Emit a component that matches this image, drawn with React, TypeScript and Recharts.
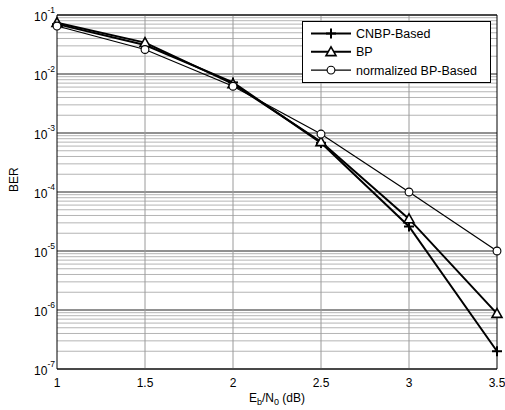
import { LineChart, Line, XAxis, YAxis, CartesianGrid, ReferenceLine, Legend, Label } from "recharts";

const EBN0 = [1, 1.5, 2, 2.5, 3, 3.5];
const CNBP = [0.07, 0.031, 0.0072, 0.00068, 2.6e-5, 2.0e-7];
const BP = [0.074, 0.034, 0.0068, 0.00071, 3.5e-5, 8.7e-7];
const NORM_BP = [0.065, 0.026, 0.0062, 0.00096, 1.0e-4, 1.0e-5];

const X_TICKS = [1, 1.5, 2, 2.5, 3, 3.5];
const X_GRID = [1.5, 2, 2.5, 3];
const DECADES = [-7, -6, -5, -4, -3, -2, -1];
const MINOR_STEPS = [2, 3, 4, 5, 6, 7, 8, 9];

const SERIES = [
  { key: "cnbp", name: "CNBP-Based", values: CNBP, width: 2, marker: "plus" },
  { key: "bp", name: "BP", values: BP, width: 2, marker: "triangle" },
  { key: "norm", name: "normalized BP-Based", values: NORM_BP, width: 1.2, marker: "circle" },
];

const data = EBN0.map((x, i) => ({ x, cnbp: CNBP[i], bp: BP[i], norm: NORM_BP[i] }));

const yTicks = DECADES.map((e) => Number("1e" + e));
const yMinor = DECADES.slice(0, -1).flatMap((e) => MINOR_STEPS.map((m) => Number(m + "e" + e)));

const FONT = "'Liberation Sans', Arial, sans-serif";

function Marker({ kind, cx, cy }: { kind: string; cx: number; cy: number }) {
  if (kind === "plus") {
    return (
      <g stroke="#000" strokeWidth={2}>
        <line x1={cx - 5} y1={cy} x2={cx + 5} y2={cy} />
        <line x1={cx} y1={cy - 5} x2={cx} y2={cy + 5} />
      </g>
    );
  }
  if (kind === "triangle") {
    return (
      <polygon
        points={`${cx},${cy - 5} ${cx - 5},${cy + 3.8} ${cx + 5},${cy + 3.8}`}
        fill="#fff"
        stroke="#000"
        strokeWidth={1.6}
      />
    );
  }
  return <circle cx={cx} cy={cy} r={3.9} fill="#fff" stroke="#000" strokeWidth={1.1} />;
}

const dotFor = (kind: string) => (props: any) => (
  <Marker key={`${kind}-${props.index}`} kind={kind} cx={props.cx} cy={props.cy} />
);

const YTick = (props: any) => {
  const { x, y, payload } = props;
  const exp = Math.round(Math.log10(payload.value));
  return (
    <text x={x} y={y + 6} textAnchor="end" fontFamily={FONT} fontSize={12} fill="#000">
      10
      <tspan dy={-8} fontSize={8.5}>
        {exp}
      </tspan>
    </text>
  );
};

const XTick = (props: any) => {
  const { x, y, payload } = props;
  return (
    <text x={x} y={y + 18} textAnchor="middle" fontFamily={FONT} fontSize={12} fill="#000">
      {payload.value}
    </text>
  );
};

const XTitle = (props: any) => {
  const { viewBox } = props;
  const cx = viewBox.x + viewBox.width / 2;
  return (
    <text x={cx} y={402} textAnchor="middle" fontFamily={FONT} fontSize={12} fill="#000">
      E
      <tspan dy={3} fontSize={9}>b</tspan>
      <tspan dy={-3}>/N</tspan>
      <tspan dy={3} fontSize={9}>0</tspan>
      <tspan dy={-3}> (dB)</tspan>
    </text>
  );
};

const renderLegend = () => (
  <svg width={189} height={62} style={{ display: "block" }}>
    <rect x={0.5} y={0.5} width={188} height={61} fill="#fff" stroke="#000" strokeWidth={1} />
    {SERIES.map((s, i) => {
      const cy = 12.5 + i * 18.3;
      return (
        <g key={s.key}>
          <line x1={9} y1={cy} x2={49} y2={cy} stroke="#000" strokeWidth={s.width} />
          <Marker kind={s.marker} cx={29} cy={cy} />
          <text x={54} y={cy + 4.5} fontFamily={FONT} fontSize={12.5} fill="#000">
            {s.name}
          </text>
        </g>
      );
    })}
  </svg>
);

export default function App() {
  return (
    <div style={{ position: "absolute", left: 0, top: 0, background: "#fff" }}>
      <LineChart width={505} height={410} data={data} margin={{ top: 15, right: 8, left: 0, bottom: 0 }}>
        <CartesianGrid horizontalValues={yMinor} vertical={false} stroke="#b4b4b4" />
        <CartesianGrid horizontalValues={yTicks} vertical={false} stroke="#222" />
        <CartesianGrid verticalValues={X_GRID} horizontal={false} stroke="#9a9a9a" />
        <XAxis
          dataKey="x"
          type="number"
          domain={[1, 3.5]}
          ticks={X_TICKS}
          tick={<XTick />}
          tickSize={0}
          tickMargin={0}
          height={41}
          axisLine={{ stroke: "#000" }}
          tickLine={false}
          interval={0}
        >
          <Label content={<XTitle />} />
        </XAxis>
        <YAxis
          type="number"
          scale="log"
          domain={[1e-7, 1e-1]}
          ticks={yTicks}
          allowDataOverflow
          tick={<YTick />}
          tickSize={0}
          tickMargin={2}
          width={57}
          axisLine={{ stroke: "#000" }}
          tickLine={false}
          interval={0}
        >
          <Label
            value="BER"
            angle={-90}
            position="insideLeft"
            offset={0}
            style={{ fontFamily: FONT, fontSize: 12, fill: "#000" }}
            dx={14}
          />
        </YAxis>
        <ReferenceLine y={1e-1} stroke="#000" />
        <ReferenceLine x={3.5} stroke="#000" />
        {SERIES.map((s) => (
          <Line
            key={s.key}
            dataKey={s.key}
            name={s.name}
            stroke="#000"
            strokeWidth={s.width}
            dot={dotFor(s.marker)}
            activeDot={false}
            isAnimationActive={false}
          />
        ))}
        <Legend
          layout="vertical"
          align="center"
          verticalAlign="middle"
          content={renderLegend}
          wrapperStyle={{ left: 302, top: 21, width: 189, height: 62 }}
        />
      </LineChart>
    </div>
  );
}
